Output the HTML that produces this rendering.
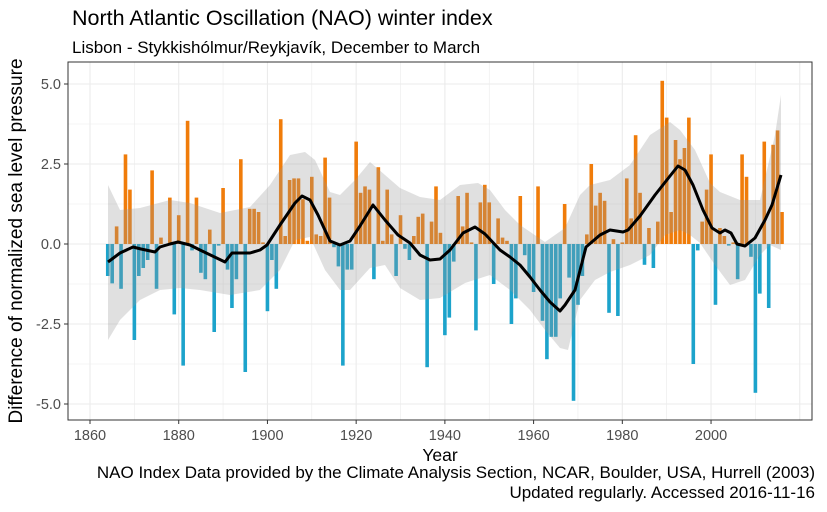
<!DOCTYPE html>
<html><head><meta charset="utf-8"><style>
body{margin:0;background:#fff;}
svg{display:block;font-family:"Liberation Sans",sans-serif;}
</style></head><body>
<svg id="s" width="827" height="512" viewBox="0 0 827 512" xmlns="http://www.w3.org/2000/svg">
<rect width="827" height="512" fill="#fff"/>
<g id="grid"></g>
<g id="bars"></g>
<polygon id="band" fill="#999" fill-opacity="0.3" points=""/>
<polyline id="line" fill="none" stroke="#000" stroke-width="3" stroke-linejoin="round" points=""/>
<rect x="68" y="62" width="744" height="358" fill="none" stroke="#333" stroke-width="1"/>
<g id="ticks" font-size="14.5" fill="#4d4d4d"></g>
<text x="72" y="25" font-size="21.5" fill="#000">North Atlantic Oscillation (NAO) winter index</text>
<text x="72" y="53" font-size="17" fill="#000">Lisbon - Stykkishólmur/Reykjavík, December to March</text>
<text x="440" y="461" font-size="17.5" text-anchor="middle" fill="#000">Year</text>
<text transform="translate(22,241) rotate(-90)" font-size="19" text-anchor="middle" fill="#000">Difference of normalized sea level pressure</text>
<text x="815" y="478" font-size="17" text-anchor="end" fill="#000">NAO Index Data provided by the Climate Analysis Section, NCAR, Boulder, USA, Hurrell (2003)</text>
<text x="815" y="498" font-size="17" text-anchor="end" fill="#000">Updated regularly. Accessed 2016-11-16</text>
</svg>
<script>
const NS="http://www.w3.org/2000/svg";
const X=y=>90+(y-1860)*4.436, Y=v=>244-v*32;
function el(p,t,a,txt){const e=document.createElementNS(NS,t);for(const k in a)e.setAttribute(k,a[k]);if(txt!==undefined)e.textContent=txt;document.getElementById(p).appendChild(e);}
for(let y=1850;y<=2020;y+=10){const x=X(y);if(x<68||x>812)continue;el("grid","line",{x1:x,x2:x,y1:62,y2:420,stroke:"#ebebeb","stroke-width":y%20==0?1.1:0.6});}
for(let v=-6.25;v<=6.25;v+=1.25){const y=Y(v);if(y<62||y>420)continue;el("grid","line",{x1:68,x2:812,y1:y,y2:y,stroke:"#ebebeb","stroke-width":Math.abs(v/2.5-Math.round(v/2.5))<1e-6?1.1:0.6});}
for(let y=1860;y<=2000;y+=20){el("ticks","line",{x1:X(y),x2:X(y),y1:420,y2:424,stroke:"#333"});el("ticks","text",{x:X(y),y:440,"text-anchor":"middle"},y);}
[[-5,"-5.0"],[-2.5,"-2.5"],[0,"0.0"],[2.5,"2.5"],[5,"5.0"]].forEach(([v,t])=>{el("ticks","line",{x1:64,x2:68,y1:Y(v),y2:Y(v),stroke:"#333"});el("ticks","text",{x:61,y:Y(v)+5,"text-anchor":"end"},t);});
const d={1864:-1.0,1865:-1.23,1866:0.55,1867:-1.4,1868:2.8,1869:1.7,1870:-3.0,1871:-1.0,1872:-0.75,1873:-0.5,1874:2.3,1875:-1.4,1876:0.2,1877:-0.05,1878:1.45,1879:-2.2,1880:0.9,1881:-3.8,1882:3.85,1883:-0.2,1884:1.45,1885:-0.9,1886:-1.1,1887:0.45,1888:-2.75,1889:-0.05,1890:1.75,1891:-0.8,1892:-2.0,1893:-1.1,1894:2.65,1895:-4.0,1896:1.1,1897:1.1,1898:1.0,1899:0.05,1900:-2.1,1901:-0.5,1902:-1.4,1903:3.9,1904:0.25,1905:2.0,1906:2.05,1907:2.05,1908:1.4,1909:0.1,1910:2.1,1911:0.3,1912:0.25,1913:2.7,1914:1.45,1915:-0.1,1916:-0.7,1917:-3.8,1918:-0.8,1919:-0.8,1920:3.2,1921:1.6,1922:1.8,1923:1.7,1924:-1.1,1925:2.4,1926:0.1,1927:1.7,1928:0.3,1929:-1.0,1930:0.9,1931:-0.15,1932:-0.5,1933:0.25,1934:0.85,1935:0.95,1936:-3.85,1937:0.7,1938:1.8,1939:0.35,1940:-2.85,1941:-2.3,1942:-0.55,1943:1.5,1944:0.55,1945:1.6,1946:0.05,1947:-2.7,1948:1.3,1949:1.85,1950:1.3,1951:-1.25,1952:0.8,1953:0.2,1954:0.1,1955:-2.5,1956:-1.7,1957:1.5,1958:-0.35,1959:-1.0,1960:-1.5,1961:1.8,1962:-2.4,1963:-3.6,1964:-2.9,1965:-2.9,1966:-1.7,1967:1.25,1968:-1.05,1969:-4.9,1970:-1.9,1971:-1.0,1972:0.3,1973:2.5,1974:1.2,1975:1.6,1976:1.35,1977:-2.15,1978:0.15,1979:-2.25,1980:0.05,1981:2.05,1982:0.8,1983:3.4,1984:1.6,1985:-0.65,1986:0.5,1987:-0.75,1988:0.7,1989:5.1,1990:3.95,1991:1.0,1992:3.25,1993:2.65,1994:3.0,1995:3.95,1996:-3.75,1997:-0.2,1998:0.7,1999:1.7,2000:2.8,2001:-1.9,2002:0.5,2003:0.25,2004:-0.05,2005:0.05,2006:-1.1,2007:2.8,2008:2.1,2009:-0.4,2010:-4.65,2011:-1.55,2012:3.2,2013:-2.0,2014:3.1,2015:3.55,2016:1.0};
for(const k in d){const v=d[k],x=X(+k)-1.8,y0=Y(0),y1=Y(v);el("bars","rect",{x:x,width:3.6,y:Math.min(y0,y1),height:Math.abs(y1-y0)||0.3,fill:v>=0?"#f07c0a":"#1ca3cb"});}
const up=[[108,185],[120,210],[140,208],[170,200],[190,203],[220,213],[250,207],[270,185],[290,155],[305,152],[315,160],[330,192],[340,195],[355,180],[370,162],[385,175],[400,188],[420,197],[440,200],[460,185],[478,183],[490,190],[505,210],[520,225],[545,242],[565,228],[580,195],[590,185],[610,180],[630,165],[650,135],[670,122],[680,130],[695,150],[710,183],[720,192],[740,200],[760,200],[775,135],[781,95]];
const lo=[[781,250],[770,245],[760,255],[745,280],[730,285],[715,265],[700,243],[690,235],[680,230],[665,235],[650,255],[630,265],[610,272],[595,280],[580,300],[568,350],[560,348],[545,330],[530,310],[510,290],[490,275],[465,283],[440,298],[420,300],[400,288],[385,265],[370,268],[350,290],[340,290],[325,270],[310,237],[295,240],[280,270],[260,290],[230,295],[200,290],[180,288],[160,290],[140,300],[120,320],[108,340]];
document.getElementById("band").setAttribute("points",up.concat(lo).map(p=>p.join(",")).join(" "));
const ln=[[108,262],[120,253],[133,247],[141,249],[155,252],[160,247],[170,244],[178,242],[190,245],[200,250],[225,262],[232,253],[250,253],[260,250],[267,245],[280,225],[295,203],[302,196],[310,200],[318,215],[330,241],[340,245],[350,241],[360,226],[373,205],[385,220],[398,235],[410,243],[420,255],[430,260],[440,259],[450,250],[463,233],[475,227],[485,234],[500,250],[510,257],[520,265],[530,277],[540,290],[550,302],[560,311],[565,305],[575,290],[586,247],[600,235],[610,230],[623,232],[628,230],[640,216],[655,195],[670,176],[678,166],[685,170],[693,185],[703,210],[712,228],[720,233],[725,230],[731,233],[737,244],[745,246],[755,238],[765,220],[772,205],[781,175]];
document.getElementById("line").setAttribute("points",ln.map(p=>p.join(",")).join(" "));
</script>
</body></html>
